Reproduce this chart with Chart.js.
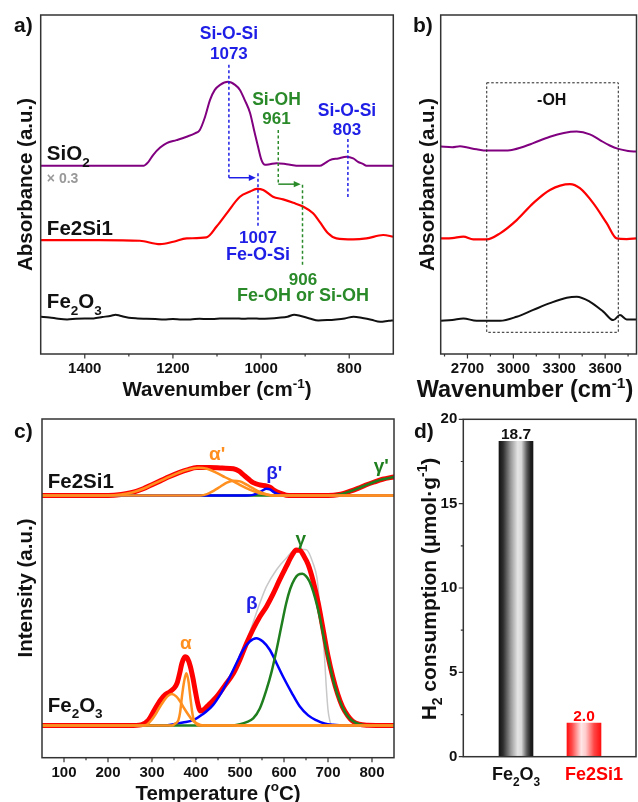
<!DOCTYPE html>
<html><head><meta charset="utf-8">
<script src="https://cdn.jsdelivr.net/npm/chart.js@4.4.0/dist/chart.umd.min.js"></script>
<style>
html,body{margin:0;padding:0;background:#fff;}
#wrap{position:relative;width:638px;height:802px;overflow:hidden;background:#fff;}
canvas{position:absolute;left:0;top:0;}
</style></head><body>
<div id="wrap">
<canvas id="ca" width="638" height="802"></canvas>
<canvas id="cb" width="638" height="802"></canvas>
<canvas id="cc" width="638" height="802"></canvas>
<canvas id="cd" width="638" height="802"></canvas>
</div>
<script>
// ---------------- DATA ----------------
// Panel a: FTIR 1500-700 cm-1
const aTicks = [1400, 1200, 1000, 800];
const aMinorTicks = [1300, 1100, 900];
const aSiO2Wn = [1500,1366,1267,1256,1245,1229,1214,1192,1169,1150,1139,1127,1116,1105,1093,1075,1059,1048,1037,1025,1016,1007,999,991,980,965,942,912,867,855,844,825,806,791,780,768,761,700];
const aSiO2Abs = [55.5,55.5,55.5,56.6,58.7,60.9,62.2,63.1,64.1,65.1,66.1,70.0,74.9,77.9,79.4,80.3,79.4,77.9,74.9,71.1,66.1,61.2,57.2,55.8,56.0,56.3,56.0,55.5,55.5,56.3,57.2,57.7,58.2,57.7,56.7,56.0,55.5,55.5];
const aFe2Si1Wn = [1500,1366,1275,1229,1199,1169,1124,1101,1078,1048,1025,1010,995,973,950,927,905,882,867,848,829,791,761,723,700];
const aFe2Si1Abs = [33.6,33.6,33.4,32.4,33.1,34.1,34.4,37.6,41.5,46.4,47.9,48.7,48.4,46.4,45.6,44.6,43.5,41.5,39.0,35.6,34.1,33.8,34.1,35.1,34.6];
const aFe2O3Wn = [1500,1480,1460,1440,1420,1400,1380,1360,1340,1330,1320,1300,1280,1260,1240,1220,1200,1180,1160,1140,1120,1100,1080,1060,1040,1020,1000,980,960,940,925,910,890,870,850,830,810,790,770,750,730,710,700];
const aFe2O3Abs = [11.0,10.8,10.4,10.2,10.4,10.5,10.5,10.9,11.3,11.6,11.3,10.7,10.5,10.4,10.3,10.2,10.3,10.2,10.2,10.4,10.3,10.4,10.5,10.5,10.4,10.5,10.4,10.5,10.7,11.0,11.6,11.2,10.5,9.9,10.0,10.2,10.5,11.0,10.6,10.1,9.5,9.8,9.9];

// Panel b: FTIR OH region
const bTicks = [2700, 3000, 3300, 3600];
const bMinorTicks = [2550, 2850, 3150, 3450, 3750];
const bSiO2Wn = [2525,2600,2651,2700,2760,2826,2900,2978,3050,3130,3239,3330,3414,3500,3566,3630,3686,3750,3805];
const bSiO2Abs = [61.2,61.0,61.3,60.9,60.4,60.0,60.0,60.1,60.9,62.2,64.1,65.2,65.6,64.8,63.1,61.5,60.5,59.9,59.7];
const bFe2Si1Wn = [2525,2600,2673,2738,2826,2913,3022,3130,3239,3370,3435,3522,3610,3675,3741,3805];
const bFe2Si1Abs = [34.1,34.2,34.6,33.8,33.8,35.6,39.5,44.5,48.4,50.1,48.9,44.5,38.6,34.1,33.9,34.1];
const bFe2O3Wn = [2525,2600,2673,2760,2913,3022,3130,3239,3349,3414,3501,3588,3653,3697,3741,3805];
const bFe2O3Abs = [9.8,10.0,10.5,9.8,9.8,11.0,13.0,15.0,16.6,16.9,15.4,12.5,10.0,11.5,10.2,10.2];

// Panel c: H2-TPR
const cTicks = [100, 200, 300, 400, 500, 600, 700, 800];
const cMinorTicks = [150, 250, 350, 450, 550, 650, 750];
const cFe2O3TotalT = [50,250,275,292,305,319,330,341,350,357,363,368,375,381,387,393,398,404,410,417,430,447,465,485,500,515,530,545,560,575,590,605,618,628,636,645,655,666,678,688,700,711,722,733,745,756,770,790,850];
const cFe2O3TotalI = [9.5,9.5,9.7,11.1,14.0,17.0,18.6,19.5,20.5,22.0,25.0,27.9,29.8,29.2,27.0,23.5,20.0,16.0,13.8,14.1,15.8,18.0,21.2,24.9,29.0,33.8,38.0,41.6,44.6,48.3,52.5,56.4,59.7,61.3,61.2,59.6,57.0,52.3,45.5,38.5,30.0,23.8,18.8,15.0,12.4,10.8,9.9,9.6,9.5];
const cFe2O3RawT = [50,250,275,292,305,319,330,341,350,357,363,368,375,381,387,393,398,404,410,417,430,447,465,485,500,515,530,545,560,583,605,628,651,666,675,681,687,692,696,700,704,708,720,850];
const cFe2O3RawI = [9.5,9.6,10.2,11.5,14.2,17.2,18.8,19.7,20.7,22.2,25.2,28.0,29.8,29.2,27.0,23.5,20.2,16.2,14.0,14.2,16.0,18.2,21.5,25.3,29.5,34.5,40.0,45.6,50.5,55.5,58.9,61.6,61.4,57.4,53.0,45.6,38.0,29.9,21.0,14.1,11.0,9.7,9.5,9.5];
const cAlpha1T = [50,280,289,298,307,316,326,335,345,355,364,373,383,392,402,417,850];
const cAlpha1I = [9.5,9.5,9.8,11.0,12.6,14.6,16.6,18.1,18.8,18.1,16.6,14.6,12.6,11.0,10.1,9.5,9.5];
const cAlpha2T = [50,345,352,360,364,368,373,378,383,387,391,394,400,406,850];
const cAlpha2I = [9.5,9.5,10.0,11.1,13.5,18.0,22.5,24.9,22.5,18.0,13.8,11.6,10.1,9.5,9.5];
const cBetaT = [50,330,349,370,394,415,439,458,477,492,507,522,537,552,568,583,598,617,636,655,673,692,711,740,850];
const cBetaI = [9.5,9.5,9.9,10.4,11.1,12.8,15.6,19.3,23.9,27.9,31.8,34.3,35.3,34.3,31.8,27.9,23.9,19.3,15.1,12.5,11.1,10.1,9.7,9.5,9.5];
const cGammaT = [50,480,500,515,530,545,560,572,583,594,605,614,624,632,642,650,658,670,681,692,703,714,726,738,749,760,772,795,850];
const cGammaI = [9.5,9.5,9.9,10.5,11.6,14.5,20.0,25.5,31.8,38.8,45.6,49.8,52.7,54.0,54.3,53.6,52.0,47.5,41.7,34.5,27.9,21.8,17.0,13.6,11.6,10.5,9.9,9.5,9.5];
const cFe2Si1TotalT = [50,200,230,255,280,300,320,340,360,380,402,430,460,485,498,508,520,530,546,561,570,578,591,605,620,700,725,749,768,786,805,824,850];
const cFe2Si1TotalI = [77.4,77.4,77.7,78.3,79.4,80.6,81.8,83.0,84.1,85.0,85.7,85.7,85.5,85.3,84.6,83.5,82.2,81.2,80.5,80.2,79.7,78.9,78.1,77.5,77.4,77.4,77.7,78.6,79.5,80.5,81.4,82.2,82.9];
const cAlphaP1T = [50,200,230,255,280,300,320,340,360,380,405,425,447,466,485,505,523,542,560,580,850];
const cAlphaP1I = [77.4,77.4,77.7,78.3,79.4,80.6,81.8,83.0,84.1,85.0,85.6,85.3,84.1,82.8,81.6,80.2,79.1,78.2,77.7,77.4,77.4];
const cAlphaP2T = [50,410,425,440,455,470,485,500,515,530,545,560,575,850];
const cAlphaP2I = [77.4,77.4,77.8,78.8,80.0,81.2,81.8,81.6,80.6,79.5,78.5,77.8,77.4,77.4];
const cBetaPT = [50,515,530,540,550,560,568,576,586,600,850];
const cBetaPI = [77.4,77.4,77.6,78.1,78.8,79.4,79.2,78.5,77.8,77.4,77.4];
const cGammaPT = [50,700,725,749,768,786,805,824,850];
const cGammaPI = [77.4,77.4,77.7,78.6,79.5,80.5,81.4,82.2,82.9];

// Panel d: H2 consumption
const dCategories = ['Fe2O3', 'Fe2Si1'];
const dValues = [18.7, 2.0];
const dTicks = [0, 5, 10, 15, 20];
const dMinorTicks = [2.5, 7.5, 12.5, 17.5];

// ---------------- HELPERS ----------------
const W = 638, H = 802;
const FONT = "'Liberation Sans', Arial, Helvetica, sans-serif";
const BLUE = '#1e1ee6', GREEN = '#2a8a2a', ORANGE = '#ff8f1f', RED = '#ff0000', PURPLE = '#800080', INK = '#111';

function pts(xs, ys) { return xs.map((x, i) => ({x: x, y: ys[i]})); }

function richText(ctx, parts, x, y, size, color, align, rotate) {
  ctx.save();
  ctx.translate(x, y);
  if (rotate) ctx.rotate(-Math.PI / 2);
  const small = size * 0.66;
  const segs = parts.map(p => {
    const t = Array.isArray(p) ? p[0] : p;
    const m = Array.isArray(p) ? p[1] : '';
    const s = m ? small : size;
    ctx.font = 'bold ' + s + 'px ' + FONT;
    return {t: t, m: m, s: s, w: ctx.measureText(t).width};
  });
  const total = segs.reduce((a, s) => a + s.w, 0);
  let cx = align === 'center' ? -total / 2 : (align === 'right' ? -total : 0);
  const base = size * 0.36;
  ctx.fillStyle = color; ctx.textBaseline = 'alphabetic'; ctx.textAlign = 'left';
  for (const s of segs) {
    ctx.font = 'bold ' + s.s + 'px ' + FONT;
    const dy = s.m === 'sub' ? size * 0.3 : (s.m === 'sup' ? -size * 0.42 : 0);
    ctx.fillText(s.t, cx, base + dy);
    cx += s.w;
  }
  ctx.restore();
}

function framePlugin(id, axis, majors, minors) {
  return {
    id: id,
    afterDraw(chart) {
      const ctx = chart.ctx, a = chart.chartArea, sc = chart.scales[axis];
      ctx.save();
      ctx.strokeStyle = '#333'; ctx.lineWidth = 1.5;
      ctx.strokeRect(a.left, a.top, a.right - a.left, a.bottom - a.top);
      ctx.lineWidth = 1.2; ctx.beginPath();
      const mark = (v, len) => {
        const p = sc.getPixelForValue(v);
        if (axis === 'x') { ctx.moveTo(p, a.bottom); ctx.lineTo(p, a.bottom + len); }
        else { ctx.moveTo(a.left, p); ctx.lineTo(a.left - len, p); }
      };
      majors.forEach(v => mark(v, 4.5));
      minors.forEach(v => mark(v, 2.5));
      ctx.stroke();
      ctx.restore();
    }
  };
}

function line(data, color, width, order) {
  return {data: data, borderColor: color, borderWidth: width, pointRadius: 0, fill: false,
          tension: 0.4, cubicInterpolationMode: 'monotone', order: order || 0, borderJoinStyle: 'round', borderCapStyle: 'round'};
}

function lineOptions(area, xmin, xmax, reverse, majors, ymax) {
  return {
    responsive: false, animation: false, events: [], devicePixelRatio: 1,
    layout: {padding: {left: area.l, top: area.t, right: W - area.r, bottom: H - area.b - 34}},
    plugins: {legend: {display: false}, tooltip: {enabled: false}},
    scales: {
      x: {type: 'linear', min: xmin, max: xmax, reverse: reverse,
          grid: {display: false, drawTicks: false}, border: {display: false},
          afterBuildTicks: s => { s.ticks = majors.map(v => ({value: v})); },
          afterFit: s => { s.height = 34; },
          ticks: {color: INK, font: {family: FONT, size: 15, weight: 'bold'}, padding: 6, maxRotation: 0, autoSkip: false,
                  callback: v => String(v)}},
      y: {type: 'linear', display: false, min: 0, max: ymax || 100}
    }
  };
}

// ---------------- PANEL a ----------------
const areaA = {l: 40.7, t: 15, r: 393.3, b: 354};
const annotA = {
  id: 'annotA',
  afterDraw(chart) {
    const ctx = chart.ctx, xs = chart.scales.x, ys = chart.scales.y;
    const X = v => xs.getPixelForValue(v), Y = v => ys.getPixelForValue(v);
    ctx.save();
    const dash = (x, y1, y2, col) => {
      ctx.strokeStyle = col; ctx.lineWidth = 1.5; ctx.setLineDash([3, 2.5]);
      ctx.beginPath(); ctx.moveTo(X(x), Y(y1)); ctx.lineTo(X(x), Y(y2)); ctx.stroke();
      ctx.setLineDash([]);
    };
    const arrow = (x1, x2, y, col) => {
      const px1 = X(x1), px2 = X(x2), py = Y(y);
      ctx.strokeStyle = col; ctx.fillStyle = col; ctx.lineWidth = 1.5;
      ctx.beginPath(); ctx.moveTo(px1, py); ctx.lineTo(px2 - 5, py); ctx.stroke();
      ctx.beginPath(); ctx.moveTo(px2, py); ctx.lineTo(px2 - 7, py - 3.2); ctx.lineTo(px2 - 7, py + 3.2); ctx.closePath(); ctx.fill();
    };
    dash(1073, 85.3, 52.0, BLUE); arrow(1073, 1012, 52.0, BLUE);
    dash(1007, 53.3, 37.1, BLUE);
    dash(961, 66.1, 50.1, GREEN); arrow(961, 910, 50.1, GREEN);
    dash(906, 49.9, 25.8, GREEN);
    dash(803, 63.4, 46.3, BLUE);
    const T = (s, x, y, col, size) => richText(ctx, [s], X(x), Y(y), size || 17, col, 'center');
    T('Si-O-Si', 1073, 94.7, BLUE, 17.5); T('1073', 1073, 88.8, BLUE);
    T('Si-OH', 965, 75.2, GREEN, 17.5); T('961', 965, 69.6, GREEN);
    T('Si-O-Si', 805, 72.0, BLUE, 17.5); T('803', 805, 66.4, BLUE);
    T('1007', 1007, 34.5, BLUE); T('Fe-O-Si', 1007, 29.7, BLUE, 18);
    T('906', 905, 22.3, GREEN); T('Fe-OH or Si-OH', 905, 17.4, GREEN, 18);
    richText(ctx, ['SiO', ['2', 'sub']], X(1486), Y(59.3), 20.5, INK, 'left');
    richText(ctx, ['\u00d7 0.3'], X(1486), Y(51.9), 14, '#999', 'left');
    richText(ctx, ['Fe2Si1'], X(1486), Y(37.2), 20.5, INK, 'left');
    richText(ctx, ['Fe', ['2', 'sub'], 'O', ['3', 'sub']], X(1486), Y(15.6), 20.5, INK, 'left');
    // panel letter and titles
    richText(ctx, ['a)'], 14, 24, 21, INK, 'left');
    richText(ctx, ['Absorbance (a.u.)'], 24.5, 184.5, 20.5, INK, 'center', true);
    richText(ctx, ['Wavenumber (cm', ['-1', 'sup'], ')'], 217, 389, 20.5, INK, 'center');
    ctx.restore();
  }
};
new Chart(document.getElementById('ca'), {
  type: 'line',
  data: {datasets: [
    line(pts(aSiO2Wn, aSiO2Abs), PURPLE, 2),
    line(pts(aFe2Si1Wn, aFe2Si1Abs), RED, 2.2),
    line(pts(aFe2O3Wn, aFe2O3Abs), '#111', 2)
  ]},
  options: lineOptions(areaA, 700, 1500, true, aTicks),
  plugins: [framePlugin('frameA', 'x', aTicks, aMinorTicks), annotA]
});

// ---------------- PANEL b ----------------
const areaB = {l: 440.7, t: 15, r: 636.5, b: 354};
const annotB = {
  id: 'annotB',
  afterDraw(chart) {
    const ctx = chart.ctx, xs = chart.scales.x, ys = chart.scales.y;
    const X = v => xs.getPixelForValue(v), Y = v => ys.getPixelForValue(v);
    ctx.save();
    ctx.strokeStyle = '#222'; ctx.lineWidth = 1; ctx.setLineDash([2.5, 2]);
    ctx.strokeRect(X(2826), Y(80.0), X(3686) - X(2826), Y(6.4) - Y(80.0));
    ctx.setLineDash([]);
    richText(ctx, ['-OH'], X(3251), Y(75.1), 16, INK, 'center');
    richText(ctx, ['b)'], 413, 24, 21, INK, 'left');
    richText(ctx, ['Absorbance (a.u.)'], 426.5, 184.5, 20.5, INK, 'center', true);
    richText(ctx, ['Wavenumber (cm', ['-1', 'sup'], ')'], 525, 389, 23.5, INK, 'center');
    ctx.restore();
  }
};
new Chart(document.getElementById('cb'), {
  type: 'line',
  data: {datasets: [
    line(pts(bSiO2Wn, bSiO2Abs), PURPLE, 2),
    line(pts(bFe2Si1Wn, bFe2Si1Abs), RED, 2.2),
    line(pts(bFe2O3Wn, bFe2O3Abs), '#111', 2)
  ]},
  options: lineOptions(areaB, 2525, 3805, false, bTicks),
  plugins: [framePlugin('frameB', 'x', bTicks, bMinorTicks), annotB]
});

// ---------------- PANEL c ----------------
const areaC = {l: 42, t: 419, r: 394, b: 757.7};
const annotC = {
  id: 'annotC',
  afterDraw(chart) {
    const ctx = chart.ctx, xs = chart.scales.x, ys = chart.scales.y;
    const X = v => xs.getPixelForValue(v), Y = v => ys.getPixelForValue(v);
    ctx.save();
    richText(ctx, ['\u03b1\''], X(448), Y(90.0), 19, ORANGE, 'center');
    richText(ctx, ['\u03b2\''], X(578), Y(84.4), 19, BLUE, 'center');
    richText(ctx, ['\u03b3\''], X(821), Y(86.4), 19, '#1f7f1f', 'center');
    richText(ctx, ['\u03b3'], X(638), Y(64.7), 19, '#1f7f1f', 'center');
    richText(ctx, ['\u03b2'], X(527), Y(45.8), 19, BLUE, 'center');
    richText(ctx, ['\u03b1'], X(377), Y(34.0), 19, ORANGE, 'center');
    richText(ctx, ['Fe2Si1'], X(63), Y(81.8), 20.5, INK, 'left');
    richText(ctx, ['Fe', ['2', 'sub'], 'O', ['3', 'sub']], X(63), Y(15.8), 20.5, INK, 'left');
    richText(ctx, ['c)'], 14, 430, 21, INK, 'left');
    richText(ctx, ['Intensity (a.u.)'], 25, 588, 20.5, INK, 'center', true);
    richText(ctx, ['Temperature (', ['o', 'sup'], 'C)'], 218, 792.5, 20.5, INK, 'center');
    ctx.restore();
  }
};
new Chart(document.getElementById('cc'), {
  type: 'line',
  data: {datasets: [
    line(pts(cFe2O3RawT, cFe2O3RawI), '#c8c8c8', 1.5, 10),
    line(pts(cFe2O3TotalT, cFe2O3TotalI), RED, 5, 8),
    line(pts(cBetaT, cBetaI), '#0000ff', 2.5, 4),
    line(pts(cGammaT, cGammaI), '#1f7f1f', 2.5, 3),
    line(pts(cAlpha1T, cAlpha1I), ORANGE, 2.5, 2),
    line(pts(cAlpha2T, cAlpha2I), ORANGE, 2.5, 2),
    line(pts(cFe2Si1TotalT, cFe2Si1TotalI), RED, 5, 8),
    line(pts(cGammaPT, cGammaPI), '#1f7f1f', 2.5, 5),
    line(pts(cBetaPT, cBetaPI), '#0000ff', 2.5, 4),
    line(pts(cAlphaP2T, cAlphaP2I), ORANGE, 2.5, 2),
    line(pts(cAlphaP1T, cAlphaP1I), ORANGE, 2.5, 1)
  ]},
  options: lineOptions(areaC, 50, 850, false, cTicks),
  plugins: [framePlugin('frameC', 'x', cTicks, cMinorTicks), annotC]
});

// ---------------- PANEL d ----------------
const areaD = {l: 463.3, t: 419.3, r: 636, b: 756.7};
const BAR_W = 34;
const barGrad = [
  [[0, '#151515'], [0.12, '#2e2e2e'], [0.35, '#9a9a9a'], [0.55, '#e4e4e4'], [0.66, '#d8d8d8'], [0.82, '#5a5a5a'], [0.93, '#202020'], [1, '#151515']],
  [[0, '#ff1010'], [0.15, '#ff4a4a'], [0.42, '#ffe6e6'], [0.55, '#ffcccc'], [0.8, '#ff4545'], [1, '#ff1010']]
];
function makeGrad(ctx, cx, i) {
  const g = ctx.createLinearGradient(cx - BAR_W / 2, 0, cx + BAR_W / 2, 0);
  barGrad[i].forEach(s => g.addColorStop(s[0], s[1]));
  return g;
}
const gradPlugin = {
  id: 'gradD',
  beforeDatasetsDraw(chart) {
    const meta = chart.getDatasetMeta(0);
    meta.data.forEach((el, i) => {
      if (isFinite(el.x)) el.options.backgroundColor = makeGrad(chart.ctx, el.x, i);
    });
  }
};
const annotD = {
  id: 'annotD',
  afterDraw(chart) {
    const ctx = chart.ctx, xs = chart.scales.x;
    const meta = chart.getDatasetMeta(0);
    ctx.save();
    meta.data.forEach((el, i) => {
      richText(ctx, [dValues[i].toFixed(1)], el.x, el.y - 8, 15.5, i === 0 ? INK : RED, 'center');
    });
    const lab = [['Fe', ['2', 'sub'], 'O', ['3', 'sub']], ['Fe2Si1']];
    dCategories.forEach((c, i) => {
      richText(ctx, lab[i], xs.getPixelForValue(i + 1) + (i === 1 ? 10 : 0), 774, 18, i === 0 ? INK : RED, 'center');
    });
    richText(ctx, ['d)'], 414, 430, 21, INK, 'left');
    richText(ctx, ['H', ['2', 'sub'], ' consumption (\u03bcmol\u00b7g', ['-1', 'sup'], ')'], 428.5, 589, 21, INK, 'center', true);
    ctx.restore();
  }
};
new Chart(document.getElementById('cd'), {
  type: 'bar',
  data: {datasets: [{
    data: dValues.map((v, i) => ({x: i + 1, y: v})),
    barThickness: BAR_W, borderWidth: 0,
    backgroundColor: c => (c.dataIndex === 1 ? '#ff5050' : '#777')
  }]},
  options: {
    responsive: false, animation: false, events: [], devicePixelRatio: 1,
    layout: {padding: {left: areaD.l - 30, top: areaD.t, right: W - areaD.r, bottom: H - areaD.b - 34}},
    plugins: {legend: {display: false}, tooltip: {enabled: false}},
    scales: {
      x: {type: 'linear', min: 0.225, max: 2.765, offset: false,
          grid: {display: false, drawTicks: false}, border: {display: false},
          ticks: {display: false},
          afterFit: s => { s.height = 34; }},
      y: {type: 'linear', min: 0, max: 20,
          grid: {display: false, drawTicks: false}, border: {display: false},
          afterBuildTicks: s => { s.ticks = dTicks.map(v => ({value: v})); },
          afterFit: s => { s.width = 30; },
          ticks: {color: INK, font: {family: FONT, size: 15, weight: 'bold'}, padding: 6}}
    }
  },
  plugins: [gradPlugin, framePlugin('frameD', 'y', dTicks, dMinorTicks), annotD]
});
</script>
</body></html>
